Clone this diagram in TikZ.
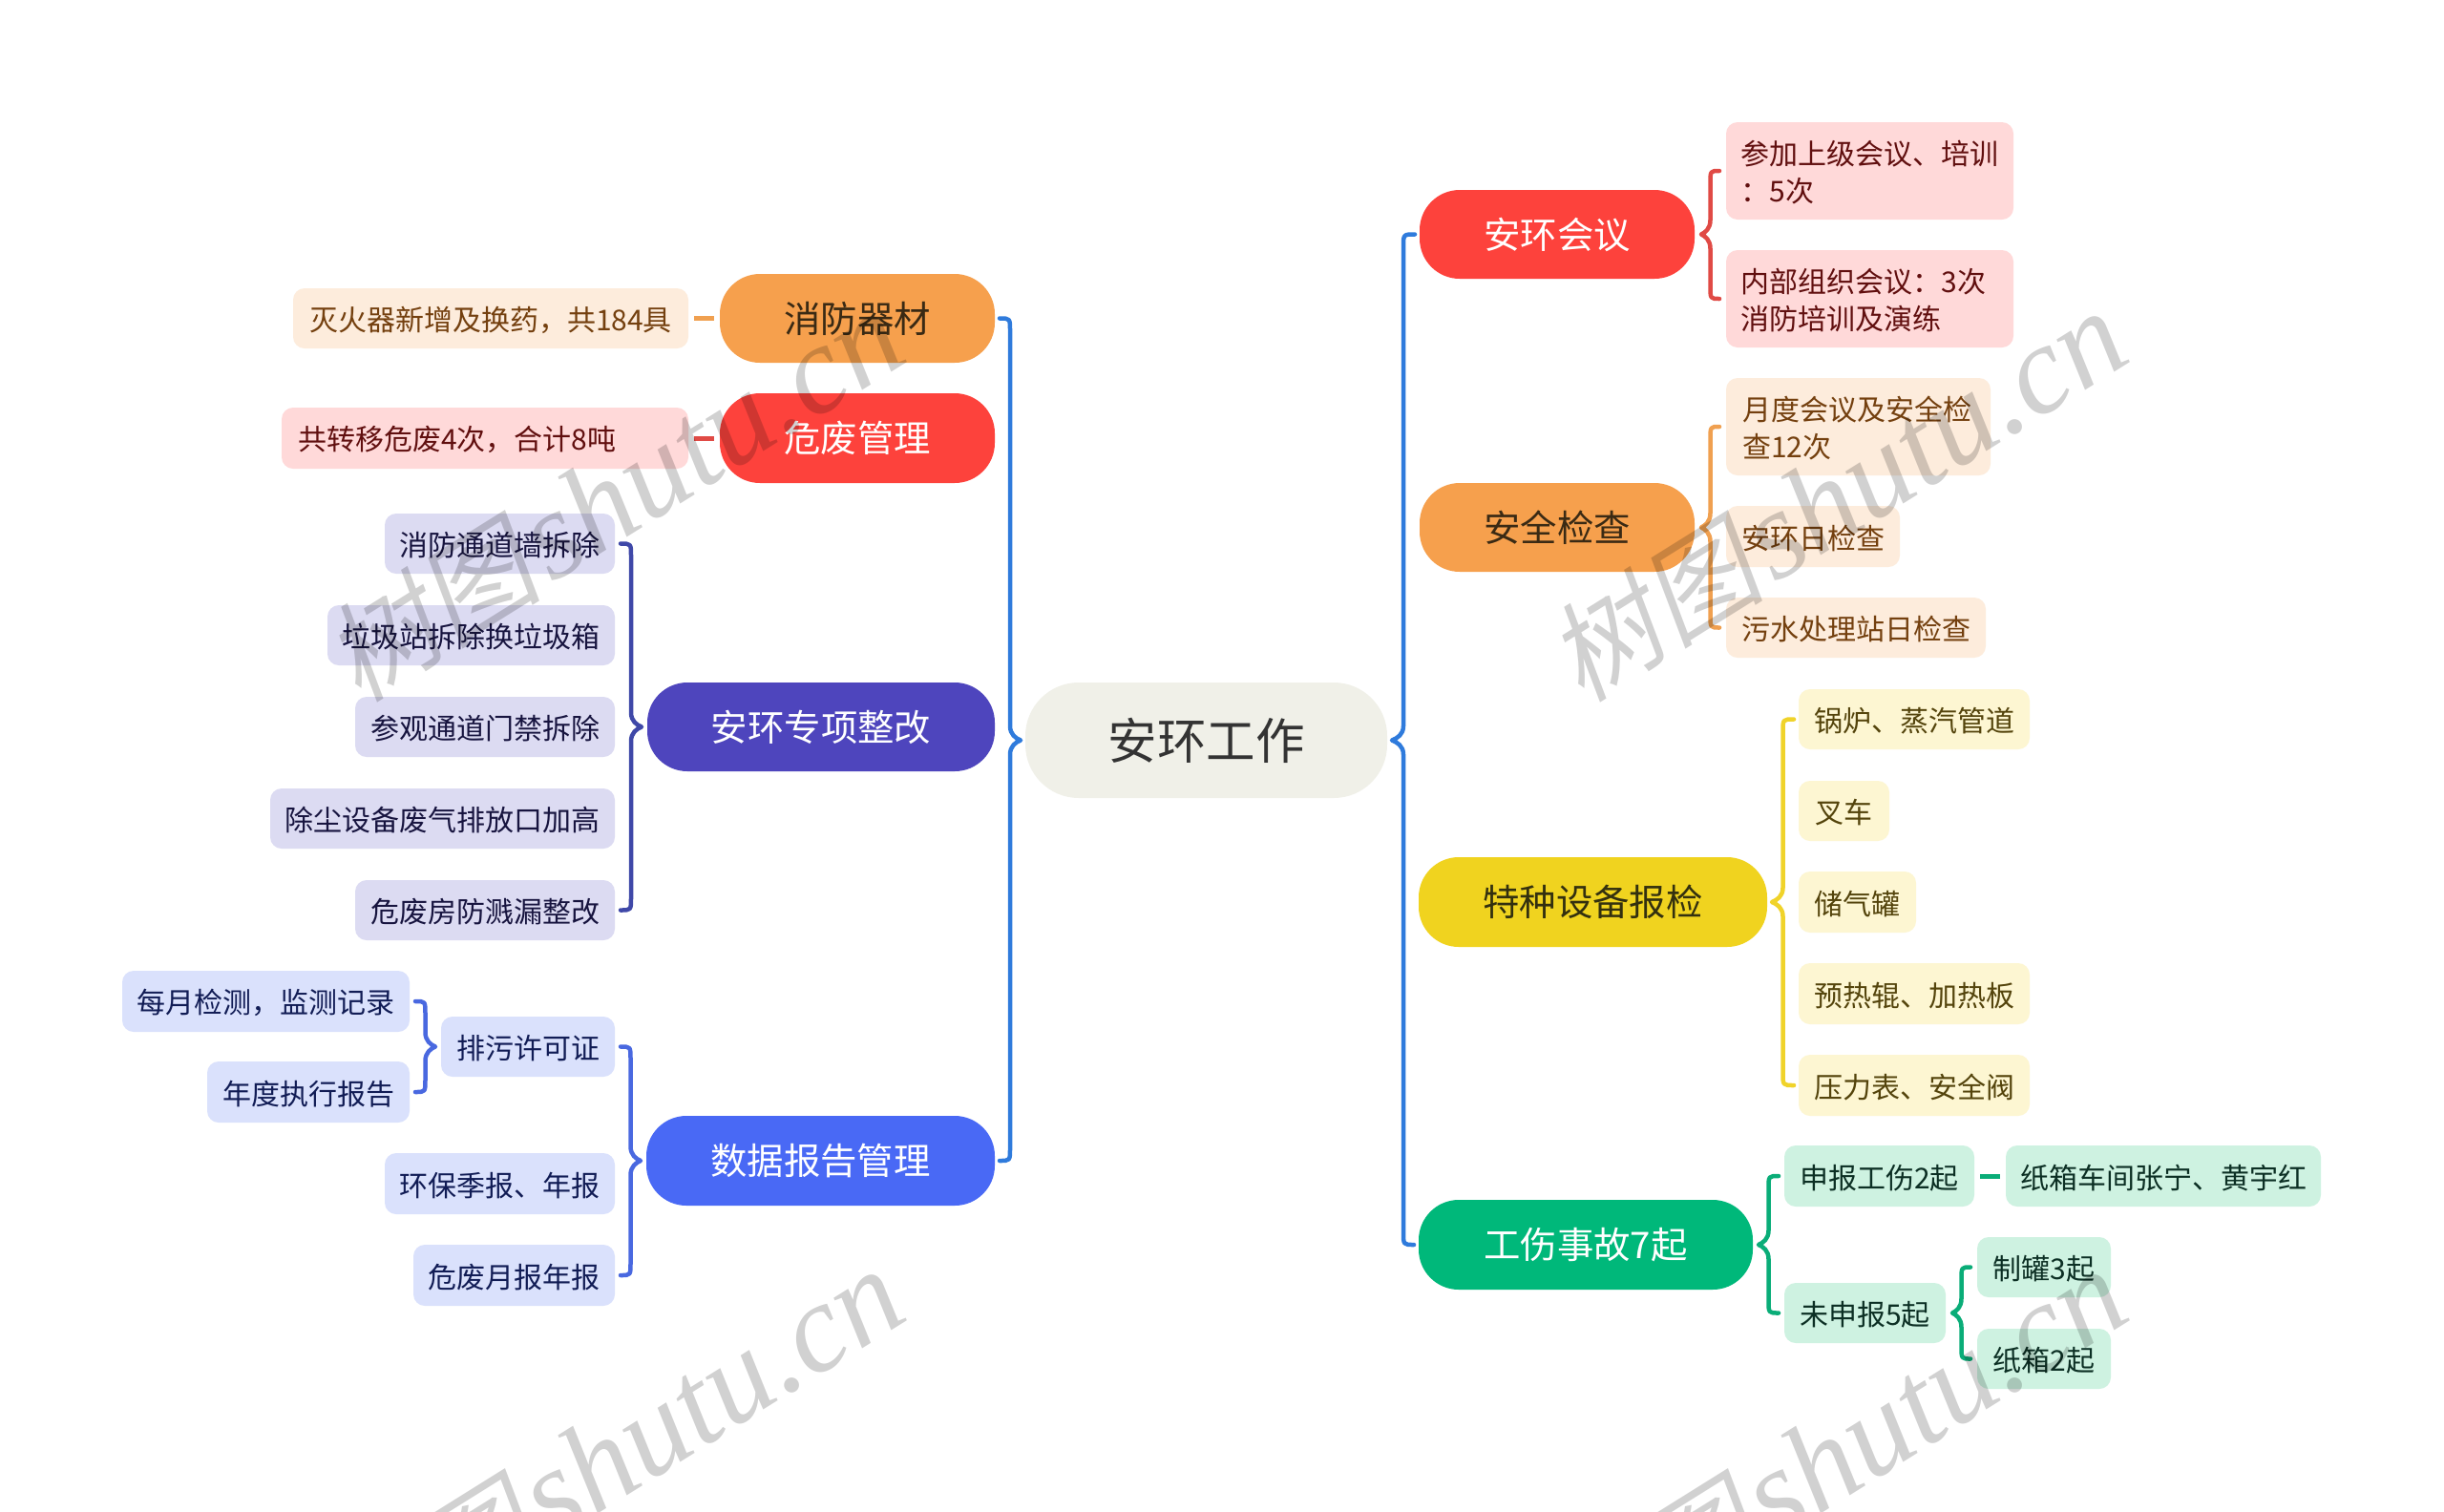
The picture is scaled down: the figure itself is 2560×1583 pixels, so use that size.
\documentclass[tikz,border=0pt]{standalone}
\usepackage{fontspec}
\usetikzlibrary{calc}
\setmainfont{Noto Sans CJK SC}
\newfontfamily\wmcjk[FakeSlant=0.2]{Noto Sans CJK SC}
\newfontfamily\wmlat{Liberation Serif}
\definecolor{cRed}{HTML}{FD423C}\definecolor{cOrange}{HTML}{F6A04D}
\definecolor{cPurple}{HTML}{4E45BD}\definecolor{cBlue}{HTML}{4969F5}
\definecolor{cYellow}{HTML}{F0D31F}\definecolor{cGreen}{HTML}{00B87A}
\definecolor{cMain}{HTML}{2F7BDC}\definecolor{cRoot}{HTML}{F0F0E8}
\definecolor{fRed}{HTML}{FFD9D9}\definecolor{tRed}{HTML}{610F0F}
\definecolor{fOrange}{HTML}{FDECDC}\definecolor{tOrange}{HTML}{74400F}
\definecolor{fYellow}{HTML}{FDF6D2}\definecolor{tYellow}{HTML}{54440C}
\definecolor{fGreen}{HTML}{CEF2E1}\definecolor{tGreen}{HTML}{0C2F24}
\definecolor{fPurple}{HTML}{DCDBF2}\definecolor{tPurple}{HTML}{17143F}
\definecolor{fBlue}{HTML}{DAE1FC}\definecolor{tBlue}{HTML}{111C55}
\definecolor{kRed}{HTML}{E04A45}\definecolor{kOrange}{HTML}{F0A050}
\definecolor{kYellow}{HTML}{F0D32A}\definecolor{kGreen}{HTML}{0AAD78}
\definecolor{kPurple}{HTML}{3F48A8}\definecolor{kBlue}{HTML}{4968E0}
\definecolor{dOrange}{HTML}{3A2A14}\definecolor{dYellow}{HTML}{33300F}
\tikzset{
 x=1pt,y=-1pt,
 anynode/.style={inner sep=0pt,outer sep=0pt,align=left},
 rootnode/.style={anynode,fill=cRoot,rounded corners=56pt,font=\fontsize{51.5}{60}\selectfont,text=black!80},
 pill/.style={anynode,fill=#1,rounded corners=42pt,font=\fontsize{38.4}{46}\selectfont,text=white},
 leafnode/.style 2 args={anynode,fill=#1,text=#2,rounded corners=12pt,font=\fontsize{30}{38.5}\selectfont,
   execute at begin node={\rule{0pt}{0.96em}}},
 lRed/.style={leafnode={fRed}{tRed}},
 lOrange/.style={leafnode={fOrange}{tOrange}},
 lYellow/.style={leafnode={fYellow}{tYellow}},
 lGreen/.style={leafnode={fGreen}{tGreen}},
 lPurple/.style={leafnode={fPurple}{tPurple}},
 lBlue/.style={leafnode={fBlue}{tBlue}},
 link/.style={line width=4.5pt,line cap=round,line join=round},
 stub/.style={line width=5pt,line cap=butt},
 watermark/.style={rotate=32,opacity=.18,text=black},
}
\newcommand\wmtext{{\fontsize{114}{118}\selectfont\wmcjk 树图}\kern10pt{\fontsize{132}{118}\selectfont\wmlat\itshape shutu.cn}}
% name, style, x1, y1, x2, y2, text
\newcommand\nbox[7]{%
 \pgfmathsetmacro\bw{#5-#3}\pgfmathsetmacro\bh{#6-#4}%
 \pgfmathsetmacro\bx{(#3+#5)/2}\pgfmathsetmacro\by{(#4+#6)/2}%
 \node[#2,minimum width=\bw pt,minimum height=\bh pt] (#1) at (\bx,\by) {#7};}
% colour, parent, parent anchor, offset, first child, last child, child anchor
\newcommand\treebrace[7]{%
 \coordinate (tt) at ($(#2.#3)+(#4,0)$);
 \coordinate (aa) at ($(#5.#7)+(-#4,0)$);
 \coordinate (bb) at ($(#6.#7)+(-#4,0)$);
 \coordinate (ss) at ($(tt)!.5!(aa)$);
 \coordinate (mm) at ($(ss |- tt)!.55!(tt)$);
 \draw[link,color=#1] (aa) .. controls (ss |- aa) .. ($(ss |- aa)+(0,13)$)
   -- ($(ss |- tt)+(0,-15)$) .. controls ($(ss |- tt)+(0,-6)$) and ($(mm)+(0,-2)$) .. (tt)
   .. controls ($(mm)+(0,2)$) and ($(ss |- tt)+(0,6)$) .. ($(ss |- tt)+(0,15)$)
   -- ($(ss |- bb)+(0,-13)$) .. controls (ss |- bb) .. (bb);}
\begin{document}
\begin{tikzpicture}
\path[use as bounding box,fill=white] (0,0) rectangle (2560,1583);
\nbox{root}{rootnode}{1074}{715}{1453}{836}{安环工作}
% right
\nbox{m1}{pill=cRed}{1487}{199}{1775}{292}{安环会议}
\nbox{m1a}{lRed,text width=270pt}{1808}{128}{2109}{230}{参加上级会议、培训\\：5次}
\nbox{m1b}{lRed,text width=270pt}{1808}{262}{2109}{364}{内部组织会议：3次\\消防培训及演练}
\nbox{m2}{pill=cOrange,text=dOrange}{1487}{506}{1775}{599}{安全检查}
\nbox{m2a}{lOrange,text width=243pt}{1808}{396}{2085}{498}{月度会议及安全检\\查12次}
\nbox{m2b}{lOrange}{1808}{530}{1990}{594}{安环日检查}
\nbox{m2c}{lOrange}{1808}{626}{2080}{689}{污水处理站日检查}
\nbox{m3}{pill=cYellow,text=dYellow}{1486}{898}{1851}{992}{特种设备报检}
\nbox{m3a}{lYellow}{1884}{722}{2126}{785}{锅炉、蒸汽管道}
\nbox{m3b}{lYellow}{1884}{818}{1979}{881}{叉车}
\nbox{m3c}{lYellow}{1884}{913}{2007}{977}{储气罐}
\nbox{m3d}{lYellow}{1884}{1009}{2126}{1073}{预热辊、加热板}
\nbox{m3e}{lYellow}{1884}{1105}{2126}{1169}{压力表、安全阀}
\nbox{m4}{pill=cGreen}{1486}{1257}{1836}{1351}{工伤事故7起}
\nbox{m4a}{lGreen}{1869}{1200}{2068}{1264}{申报工伤2起}
\nbox{m4a1}{lGreen}{2101}{1200}{2431}{1264}{纸箱车间张宁、黄宇红}
\nbox{m4b}{lGreen}{1869}{1344}{2038}{1407}{未申报5起}
\nbox{m4b1}{lGreen}{2071}{1296}{2211}{1359}{制罐3起}
\nbox{m4b2}{lGreen}{2071}{1392}{2211}{1455}{纸箱2起}
% left
\nbox{n1}{pill=cOrange,text=dOrange}{754}{287}{1042}{380}{消防器材}
\nbox{n1a}{lOrange}{307}{302}{721}{365}{灭火器新增及换药，共184具}
\nbox{n2}{pill=cRed}{754}{412}{1042}{506}{危废管理}
\nbox{n2a}{lRed,text width=392pt}{295}{427}{721}{491}{共转移危废4次，合计8吨}
\nbox{n3}{pill=cPurple}{678}{715}{1042}{808}{安环专项整改}
\nbox{n3a}{lPurple}{403}{538}{644}{601}{消防通道墙拆除}
\nbox{n3b}{lPurple}{343}{634}{644}{697}{垃圾站拆除换垃圾箱}
\nbox{n3c}{lPurple}{372}{730}{644}{793}{参观通道门禁拆除}
\nbox{n3d}{lPurple}{283}{826}{644}{889}{除尘设备废气排放口加高}
\nbox{n3e}{lPurple}{372}{922}{644}{985}{危废房防溅漏整改}
\nbox{n4}{pill=cBlue}{677}{1169}{1042}{1263}{数据报告管理}
\nbox{n4a}{lBlue}{462}{1065}{644}{1128}{排污许可证}
\nbox{n4a1}{lBlue}{128}{1017}{429}{1081}{每月检测，监测记录}
\nbox{n4a2}{lBlue}{217}{1112}{429}{1176}{年度执行报告}
\nbox{n4b}{lBlue}{403}{1208}{644}{1272}{环保季报、年报}
\nbox{n4c}{lBlue}{433}{1304}{644}{1368}{危废月报年报}
% connectors (right-hand trees: positive offset; left-hand trees: negative)
\treebrace{cMain}{root}{east}{5}{m1}{m4}{west}
\treebrace{kRed}{m1}{east}{7}{m1a}{m1b}{west}
\treebrace{kOrange}{m2}{east}{7}{m2a}{m2c}{west}
\treebrace{kYellow}{m3}{east}{5}{m3a}{m3e}{west}
\treebrace{kGreen}{m4}{east}{6}{m4a}{m4b}{west}
\treebrace{kGreen}{m4b}{east}{7}{m4b1}{m4b2}{west}
\treebrace{cMain}{root}{west}{-5}{n1}{n4}{east}
\treebrace{kPurple}{n3}{west}{-6}{n3a}{n3e}{east}
\treebrace{kBlue}{n4}{west}{-6}{n4a}{n4c}{east}
\treebrace{kBlue}{n4a}{west}{-6}{n4a1}{n4a2}{east}
\draw[stub,color=kOrange] ($(n1a.east)+(6,0)$) -- ($(n1.west)+(-6,0)$);
\draw[stub,color=kRed] ($(n2a.east)+(6,0)$) -- ($(n2.west)+(-6,0)$);
\draw[stub,color=kGreen] ($(m4a.east)+(6,0)$) -- ($(m4a1.west)+(-6,0)$);
% watermarks
\begin{scope}
\clip (0,0) rectangle (2560,1583);
\node[watermark] (w1) at (643,520) {\wmtext};
\node[watermark] (w2) at (1924,520) {\wmtext};
\node[watermark] (w3) at (643,1524) {\wmtext};
\node[watermark] (w4) at (1924,1524) {\wmtext};
\end{scope}
\end{tikzpicture}
\end{document}
